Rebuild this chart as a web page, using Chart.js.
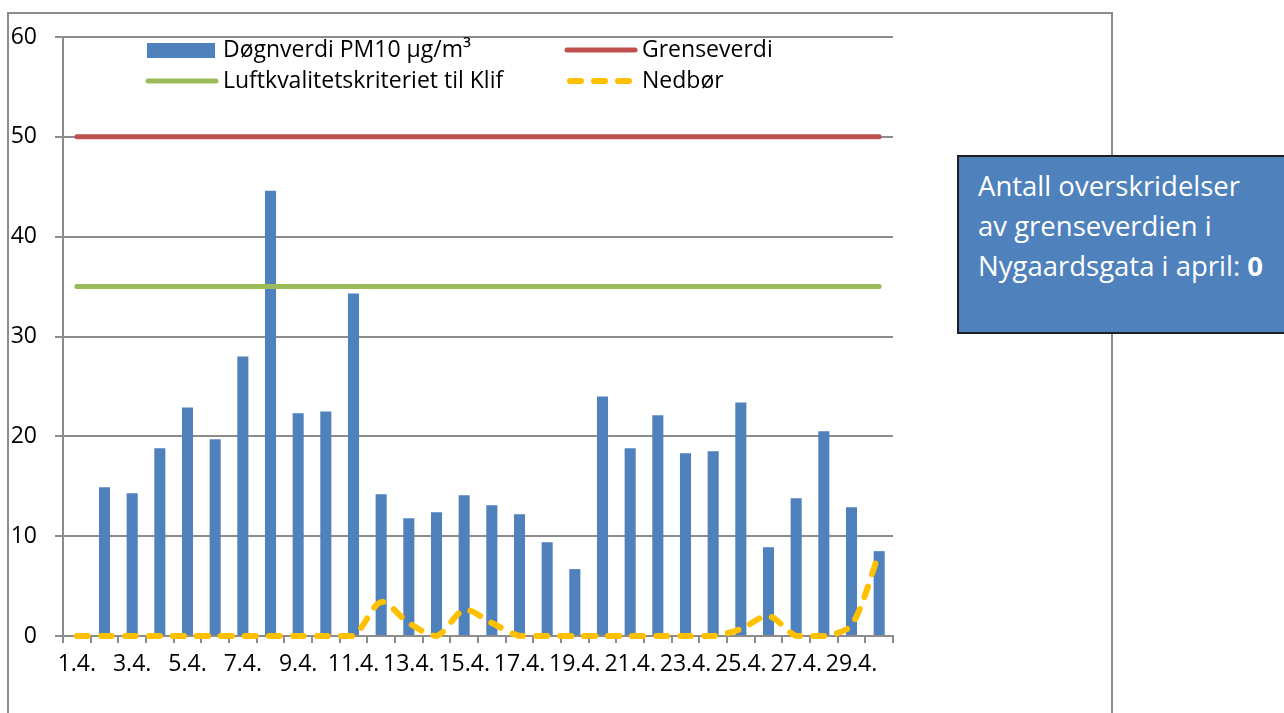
<!DOCTYPE html>
<html>
<head>
<meta charset="utf-8">
<script src="https://cdn.jsdelivr.net/npm/chart.js@4"></script>
<style>
  body { margin: 0; background: #fff; overflow: hidden; }
  #wrap { position: relative; width: 1284px; height: 713px; overflow: hidden; }
  #frame { position: absolute; left: 7px; top: 12px; width: 1102px; height: 760px; border: 2px solid #8c8c8c; }
  #myChart { position: absolute; left: 0; top: 0; }
  #infoBox {
    position: absolute; left: 957px; top: 155px; width: 360px; height: 166px;
    background: #4F81BD; border: 2px solid #1f1f1f;
    color: #fff; font-family: "Open Sans", sans-serif; font-size: 27.5px; line-height: 40px;
    padding: 9px 0 0 19px; box-sizing: content-box;
  }
</style>
</head>
<body>
<div id="wrap">
  <div id="frame"></div>
  <canvas id="myChart" width="1284" height="713"></canvas>
  <div id="infoBox">Antall overskridelser<br>av grenseverdien i<br>Nygaardsgata i april: <b>0</b></div>
</div>
<script>
// kategorier (dager i april)
var labels = ['1.4.', '2.4.', '3.4.', '4.4.', '5.4.', '6.4.', '7.4.', '8.4.', '9.4.', '10.4.',
              '11.4.', '12.4.', '13.4.', '14.4.', '15.4.', '16.4.', '17.4.', '18.4.', '19.4.', '20.4.',
              '21.4.', '22.4.', '23.4.', '24.4.', '25.4.', '26.4.', '27.4.', '28.4.', '29.4.', '30.4.'];

// døgnverdi PM10
var pm10 = [null, 14.9, 14.3, 18.8, 22.9, 19.7, 28.0, 44.6, 22.3, 22.5,
            34.3, 14.2, 11.8, 12.4, 14.1, 13.1, 12.2, 9.4, 6.7, 24.0,
            18.8, 22.1, 18.3, 18.5, 23.4, 8.9, 13.8, 20.5, 12.9, 8.5];

// grenseverdi og luftkvalitetskriteriet
var grenseverdi = [50, 50, 50, 50, 50, 50, 50, 50, 50, 50,
                   50, 50, 50, 50, 50, 50, 50, 50, 50, 50,
                   50, 50, 50, 50, 50, 50, 50, 50, 50, 50];
var kriterie = [35, 35, 35, 35, 35, 35, 35, 35, 35, 35,
                35, 35, 35, 35, 35, 35, 35, 35, 35, 35,
                35, 35, 35, 35, 35, 35, 35, 35, 35, 35];

// nedbør
var nedbor = [0, 0, 0, 0, 0, 0, 0, 0, 0, 0,
              0, 3.4, 1.3, 0, 2.6, 1.3, 0, 0, 0, 0,
              0, 0, 0, 0, 0.7, 2.0, 0, 0, 1.1, 8.3];

var yTicks = [0, 10, 20, 30, 40, 50, 60];

var FONT = '"Open Sans", sans-serif';
var GRID = '#8c8c8c';

// legend i to kolonner, tegnet inne i plottet
var legendPlugin = {
    id: 'toKolonneLegend',
    afterDraw: function(chart) {
        var c = chart.ctx;
        var a = chart.chartArea;
        var ds = chart.data.datasets;
        var col1 = a.left + 83, col2 = a.left + 502;
        var row1 = 50, row2 = 81;
        c.save();
        c.font = '23px ' + FONT;
        c.textBaseline = 'middle';

        // Døgnverdi
        c.fillStyle = ds[0].backgroundColor;
        c.fillRect(col1 + 1, row1 - 7, 68, 15);
        // Grenseverdi
        c.lineCap = 'round';
        c.lineWidth = 5;
        c.strokeStyle = ds[1].borderColor;
        c.beginPath(); c.moveTo(col2 + 2, row1); c.lineTo(col2 + 70, row1); c.stroke();
        // Luftkvalitetskriteriet
        c.strokeStyle = ds[2].borderColor;
        c.beginPath(); c.moveTo(col1 + 2, row2); c.lineTo(col1 + 70, row2); c.stroke();
        // Nedbør
        c.strokeStyle = ds[3].borderColor;
        c.lineWidth = 6;
        c.setLineDash([11, 13]);
        c.beginPath(); c.moveTo(col2 + 5, row2); c.lineTo(col2 + 66, row2); c.stroke();
        c.setLineDash([]);

        c.fillStyle = '#000';
        c.fillText(ds[0].label, col1 + 77, row1);
        c.fillText(ds[1].label, col2 + 77, row1);
        c.fillText(ds[2].label, col1 + 77, row2);
        c.fillText(ds[3].label, col2 + 77, row2);
        c.restore();
    }
};

document.addEventListener('DOMContentLoaded', function() {
    var ctx = document.getElementById('myChart').getContext('2d');
    var myChart = new Chart(ctx, {
        type: 'bar',
        data: {
            labels: labels,
            datasets: [{
                label: 'Døgnverdi PM10 µg/m³',
                data: pm10,
                backgroundColor: '#4F81BD',
                barPercentage: 0.4,
                categoryPercentage: 1.0,
                order: 2
            }, {
                type: 'line',
                label: 'Grenseverdi',
                data: grenseverdi,
                borderColor: '#C0504D',
                borderWidth: 5,
                borderCapStyle: 'round',
                pointRadius: 0,
                order: 1
            }, {
                type: 'line',
                label: 'Luftkvalitetskriteriet til Klif',
                data: kriterie,
                borderColor: '#9BBB59',
                borderWidth: 5,
                borderCapStyle: 'round',
                pointRadius: 0,
                order: 1
            }, {
                type: 'line',
                label: 'Nedbør',
                data: nedbor,
                borderColor: '#FFC000',
                borderWidth: 6,
                borderDash: [11, 13],
                borderCapStyle: 'round',
                tension: 0.3,
                pointRadius: 0,
                clip: false,
                order: 0
            }]
        },
        options: {
            responsive: false,
            animation: false,
            layout: { padding: { left: 7, right: 391, top: 37, bottom: 37 } },
            plugins: {
                legend: { display: false },
                tooltip: { enabled: false }
            },
            scales: {
                x: {
                    offset: true,
                    grid: { offset: true, drawOnChartArea: false, drawTicks: true, tickLength: 7, color: GRID, lineWidth: 2 },
                    border: { color: GRID, width: 2 },
                    ticks: {
                        autoSkip: false, maxRotation: 0, minRotation: 0, padding: 8,
                        color: '#000', font: { family: FONT, size: 23 },
                        callback: function(v, i) { return i % 2 === 0 ? labels[i] : ''; }
                    },
                    afterFit: function(s) { s.height = 40; }
                },
                y: {
                    min: 0, max: 60,
                    afterBuildTicks: function(s) { s.ticks = yTicks.map(function(v) { return { value: v }; }); },
                    grid: { color: GRID, lineWidth: 2, tickLength: 8 },
                    border: { color: GRID, width: 2 },
                    ticks: { padding: 18, color: '#000', font: { family: FONT, size: 23 } },
                    afterFit: function(s) { s.width = 56; }
                }
            }
        },
        plugins: [legendPlugin]
    });
});
</script>
</body>
</html>
